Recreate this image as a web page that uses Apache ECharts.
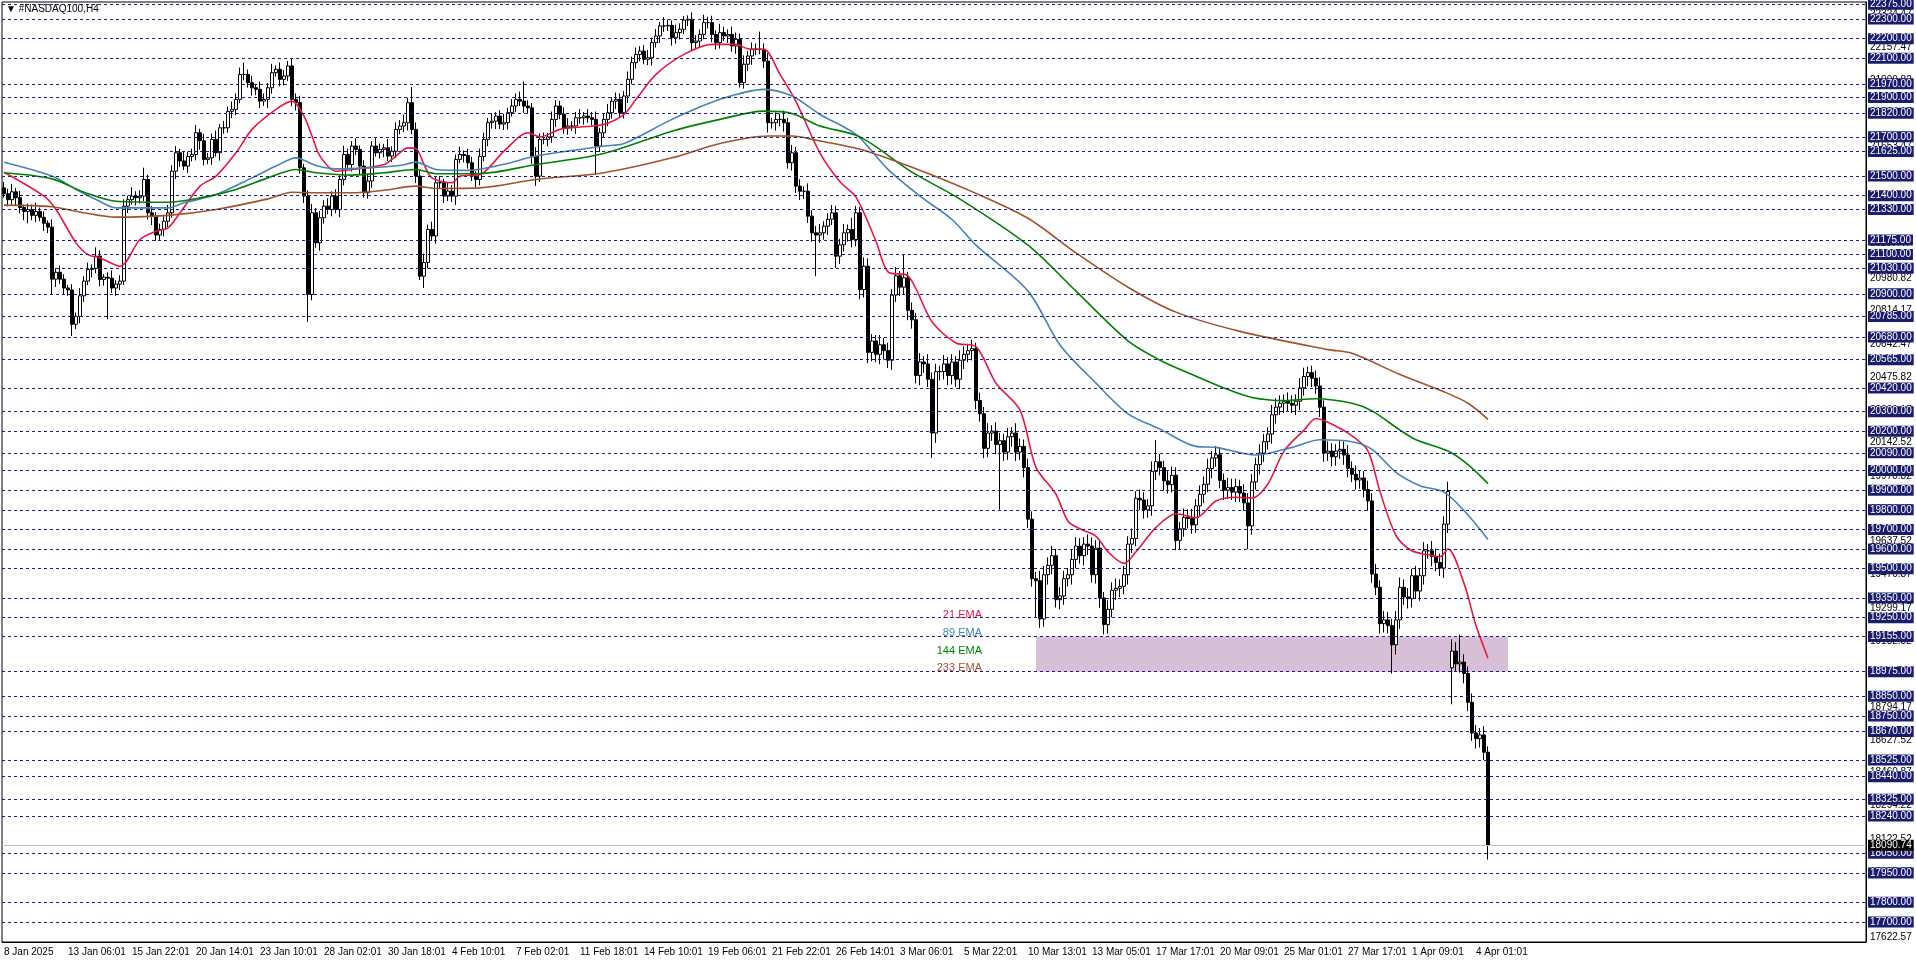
<!DOCTYPE html>
<html><head><meta charset="utf-8">
<script src="https://cdn.jsdelivr.net/npm/echarts@6/dist/echarts.min.js"></script>
<style>html,body{margin:0;padding:0;background:#fff}#c{width:1916px;height:963px}</style>
</head><body><div id="c"></div>
<script>
const tickLabels = ["8 Jan 2025","13 Jan 06:01","15 Jan 22:01","20 Jan 14:01","23 Jan 10:01","28 Jan 02:01","30 Jan 18:01","4 Feb 10:01","7 Feb 02:01","11 Feb 18:01","14 Feb 10:01","19 Feb 06:01","21 Feb 22:01","26 Feb 14:01","3 Mar 06:01","5 Mar 22:01","10 Mar 13:01","13 Mar 05:01","17 Mar 17:01","20 Mar 09:01","25 Mar 01:01","27 Mar 17:01","1 Apr 09:01","4 Apr 01:01"];
const closes = [
21410,21380,21420,21390,21340,21320,21330,21300,21320,21290,21260,21240,20975,21010,20975,20930,20920,20745,20785,20890,
20965,21024,21030,21092,20973,20985,20980,20930,20950,20965,21347,21380,21398,21390,21398,21483,21313,21296,21200,21228,
21270,21313,21525,21619,21577,21551,21600,21610,21721,21680,21585,21593,21687,21619,21746,21746,21830,21840,21891,22018,
22018,21976,21950,21942,21882,21891,21950,22027,22044,21993,22010,22061,21891,21874,21542,21398,20897,21313,21160,21288,
21347,21330,21398,21330,21483,21610,21559,21653,21636,21551,21415,21475,21653,21619,21636,21644,21602,21627,21738,21755,
21772,21874,21738,21500,20990,21060,21228,21195,21466,21466,21398,21424,21398,21585,21610,21605,21568,21500,21483,21600,
21687,21772,21780,21806,21765,21772,21823,21857,21891,21882,21857,21848,21602,21500,21687,21687,21700,21789,21857,21815,
21746,21755,21755,21797,21797,21806,21797,21789,21653,21721,21789,21823,21882,21891,21823,21908,21993,22078,22120,22137,
22095,22103,22180,22214,22265,22265,22268,22205,22231,22248,22295,22299,22180,22188,22222,22282,22282,22222,22180,22231,
22214,22222,22163,22197,21976,22070,22112,22146,22146,22146,22086,21772,21772,21789,21789,21772,21568,21619,21449,21423,
21423,21296,21211,21200,21211,21245,21280,21313,21092,21150,21211,21228,21177,21313,20922,21041,20602,20660,20592,20641,
20611,20562,20894,20992,20934,20982,20816,20768,20484,20553,20543,20465,20191,20504,20504,20543,20484,20553,20465,20562,
20592,20611,20621,20357,20289,20113,20191,20201,20133,20152,20094,20172,20191,20094,20123,20015,19752,19449,19439,19244,
19469,19517,19566,19342,19361,19449,19469,19547,19615,19566,19625,19615,19469,19605,19351,19215,19293,19390,19400,19410,
19469,19625,19654,19859,19850,19800,19820,19996,20045,20015,19947,19928,19976,19644,19703,19762,19755,19723,19820,19879,
19930,20010,20064,20080,19950,19900,19913,19890,19918,19885,19835,19718,19942,20030,20089,20147,20186,20284,20323,20343,
20353,20343,20333,20353,20421,20479,20499,20470,20431,20323,20089,20099,20070,20099,20108,20079,20011,19981,19952,19962,
19903,19845,19473,19405,19220,19239,19210,19112,19239,19405,19356,19347,19464,19386,19464,19591,19591,19562,19532,19503,
19727,19893,19080,19015,19024,18966,18819,18663,18634,18653,18565,18090];
const firstOpen = 21440;
const gapOpens = {362: 18995};
const hiW = [
30,25,40,20,35,15,30,25,45,20,30,15,40,20,35,25,15,30,20,40,
25,35,20,45,30,15,25,40,20,30,35,20,45,25,30,60,25,35,20,30,
25,40,30,35,20,45,25,30,40,20,35,25,30,45,20,35,25,40,30,35,
60,25,35,20,40,30,25,45,20,35,30,25,40,30,35,20,30,45,25,35,
30,40,25,35,20,45,30,25,40,20,30,35,25,40,30,20,45,25,35,30,
40,25,80,35,30,45,25,40,30,35,20,45,30,25,40,20,35,30,25,40,
35,25,40,20,30,45,25,35,30,40,100,30,25,45,30,35,20,40,30,25,
35,40,25,30,45,20,35,30,40,25,30,45,20,35,30,25,40,30,35,25,
30,40,25,35,20,45,30,25,40,30,20,20,35,30,25,40,30,35,20,45,
30,25,40,35,30,45,25,35,30,90,30,40,25,35,30,45,25,40,30,35,
25,40,30,35,45,25,30,40,35,30,45,25,60,35,30,45,40,35,30,50,
35,40,30,45,25,120,30,40,35,45,30,50,35,40,30,45,35,40,30,50,
40,35,45,30,40,35,50,30,45,40,35,45,30,50,40,35,45,40,35,50,
45,40,50,35,45,40,35,50,45,40,35,50,45,40,35,30,45,40,50,35,
45,40,50,35,45,40,35,50,110,40,35,50,45,40,35,45,40,50,35,45,
40,50,35,45,40,35,50,45,40,35,45,50,40,35,45,40,35,50,45,40,
35,45,40,35,50,45,30,35,40,45,35,50,40,35,45,40,50,35,45,40,
35,45,40,50,35,45,40,35,45,50,40,45,35,50,40,45,35,50,40,45,
40,50,60,45,140,40,35,45,40,35,45,30];
const loW = [
20,35,25,40,30,45,60,25,35,20,40,30,80,40,25,35,30,60,25,35,
30,20,40,25,35,30,210,25,40,30,20,35,25,40,30,25,35,45,30,25,
35,30,25,40,30,20,35,25,30,45,30,25,35,20,40,30,25,35,30,20,
30,25,40,30,35,25,45,30,20,35,30,25,35,40,30,35,140,30,25,40,
30,25,35,20,40,30,25,35,30,45,25,30,35,20,30,40,25,30,35,25,
30,40,25,35,20,60,30,25,40,30,35,25,30,45,20,35,30,25,40,30,
25,35,30,40,25,30,35,20,30,25,35,30,40,50,30,25,35,30,40,25,
30,35,25,40,30,35,25,30,145,30,25,35,30,40,25,30,35,25,30,35,
25,30,40,25,35,30,25,40,30,35,25,30,40,30,35,25,30,40,35,30,
25,35,30,40,25,30,35,45,30,25,35,50,30,40,35,45,30,40,35,45,
40,35,45,210,40,35,45,30,60,40,35,45,40,35,50,40,55,45,40,50,
45,40,50,35,45,40,50,45,40,50,45,40,127,50,45,40,50,45,40,50,
45,40,50,45,40,50,45,40,50,332,45,40,50,45,40,50,45,40,185,45,
40,50,45,40,50,45,40,50,45,40,50,45,40,45,50,50,45,40,50,45,
40,50,45,40,50,45,40,50,45,40,50,45,40,50,45,40,50,45,40,50,
45,40,50,45,40,50,45,40,50,45,40,118,45,40,50,45,40,50,45,40,
50,45,40,50,45,40,50,45,40,50,45,40,50,45,40,50,45,40,50,45,
40,50,45,40,50,45,40,146,50,45,40,50,45,40,50,45,40,50,45,40,
50,45,186,40,45,50,45,40,50,45,40,72];
const ema21 = [[0,21520],[10,21398],[13,21330],[18,21160],[21,21100],[24,21083],[29,21041],[34,21177],[38,21219],[41,21236],[44,21313],[49,21449],[53,21500],[58,21619],[62,21738],[68,21840],[72,21882],[75,21806],[77,21704],[79,21602],[83,21525],[87,21534],[95,21559],[98,21602],[101,21644],[103,21640],[105,21559],[107,21491],[112,21466],[114,21500],[119,21508],[125,21627],[131,21721],[134,21700],[139,21738],[144,21750],[150,21763],[155,21814],[158,21891],[163,22018],[170,22120],[177,22171],[183,22171],[186,22149],[190,22146],[194,22018],[198,21880],[204,21617],[209,21471],[213,21393],[218,21168],[221,21012],[226,20992],[232,20758],[238,20650],[243,20631],[248,20445],[254,20308],[258,20016],[263,19879],[266,19742],[269,19703],[273,19665],[276,19586],[280,19527],[283,19586],[288,19710],[293,19780],[298,19760],[303,19845],[308,19864],[312,19860],[316,19933],[320,20099],[325,20206],[328,20265],[333,20226],[337,20177],[341,20099],[344,19893],[348,19669],[352,19591],[356,19571],[359,19561],[361,19600],[365,19425],[368,19210],[371,19044]];
const ema89 = [[0,21571],[12,21500],[18,21432],[23,21381],[28,21338],[41,21338],[45,21364],[53,21406],[62,21491],[68,21551],[73,21593],[78,21554],[83,21537],[91,21542],[99,21554],[103,21571],[108,21534],[116,21529],[125,21560],[133,21602],[150,21653],[155,21666],[167,21789],[179,21891],[190,21942],[197,21908],[204,21814],[213,21712],[221,21534],[229,21398],[237,21279],[243,21148],[256,20914],[264,20640],[273,20445],[281,20289],[289,20211],[298,20123],[303,20118],[313,20079],[322,20118],[329,20157],[337,20147],[342,20108],[348,19991],[354,19923],[360,19890],[365,19796],[371,19649]];
const ema144 = [[0,21517],[12,21486],[20,21418],[28,21372],[41,21367],[49,21389],[58,21432],[66,21491],[73,21534],[78,21517],[87,21505],[95,21517],[103,21534],[108,21512],[119,21513],[133,21559],[150,21615],[167,21729],[179,21789],[190,21831],[197,21819],[204,21755],[214,21700],[227,21520],[239,21383],[256,21148],[268,20914],[281,20660],[289,20562],[297,20489],[305,20420],[312,20372],[320,20356],[328,20366],[337,20343],[342,20304],[349,20206],[353,20157],[361,20099],[366,20030],[371,19933]];
const ema233 = [[0,21352],[12,21344],[20,21313],[28,21291],[41,21300],[53,21330],[66,21384],[72,21418],[78,21415],[87,21415],[95,21428],[103,21449],[108,21437],[119,21440],[133,21483],[150,21517],[167,21593],[179,21666],[191,21704],[197,21704],[203,21683],[214,21637],[227,21545],[243,21412],[256,21285],[268,21109],[281,20934],[293,20807],[309,20709],[331,20616],[337,20597],[349,20489],[360,20401],[366,20343],[371,20261]];
const levels = [22375,22300,22200,22100,21970,21900,21820,21700,21625,21500,21400,21330,21175,21100,21030,20900,20785,20680,20565,20420,20300,20200,20090,20000,19900,19800,19700,19600,19500,19350,19250,19155,18975,18850,18750,18670,18525,18440,18325,18240,18050,17950,17800,17700];
const axisPrices = [22324.47,22157.47,21990.82,21824.17,21653.47,21490.82,21324.17,21157.47,20980.82,20814.17,20642.47,20475.82,20309.17,20142.52,19970.82,19804.17,19637.52,19470.87,19299.17,19132.52,18965.87,18794.17,18627.52,18460.87,18294.22,18122.52,17955.87,17789.22,17622.57];
const lastPrice = 18090.74;
const zone = [19155, 18975];
const zoneBars = [258, 376];
const NCAT = 466;

const cats = []; for (let i=0;i<NCAT;i++) cats.push(String(i));
const ohlc = closes.map((c,i)=>{
  const o = i===0 ? firstOpen : (gapOpens[i] !== undefined ? gapOpens[i] : closes[i-1]);
  return [o, c, Math.min(o,c)-loW[i], Math.max(o,c)+hiW[i]];
});
const F = 'Liberation Sans, Arial, sans-serif';
const showTick = (i)=> i%16===0 && i<=368;
const chart = echarts.init(document.getElementById('c'));
const emaSeries = (name, data, color)=>({type:'line', name, data, smooth:0.3, connectNulls:true, showSymbol:false, symbol:'none', lineStyle:{color, width:1.6}, z:3, silent:true, animation:false});
chart.setOption({
  animation:false,
  backgroundColor:'#fff',
  grid:{left:2, right:50, top:2, bottom:21, show:true, borderColor:'#000', borderWidth:1, backgroundColor:'transparent'},
  xAxis:{type:'category', data:cats, boundaryGap:true,
    axisLine:{lineStyle:{color:'#000'}},
    axisTick:{interval:showTick, length:4, lineStyle:{color:'#000'}},
    axisLabel:{interval:showTick, formatter:(v)=>tickLabels[(+v)/16]||'', align:'left', margin:5, color:'#000', fontSize:10, fontFamily:F},
    splitLine:{show:false}},
  yAxis:{type:'value', position:'right', min:17598, max:22387, axisLabel:{show:false}, axisTick:{show:false}, splitLine:{show:false}, axisLine:{show:true, lineStyle:{color:'#000'}}},
  graphic:[
    {type:'text', left:6, top:4, style:{text:'▼ #NASDAQ100,H4', fill:'#000', font:'10px '+F}},
    {type:'text', x:982, y:615, style:{text:'21 EMA', fill:'#e8173f', font:'11px '+F, textAlign:'right', textVerticalAlign:'middle'}},
    {type:'text', x:982, y:633, style:{text:'89 EMA', fill:'#4682b4', font:'11px '+F, textAlign:'right', textVerticalAlign:'middle'}},
    {type:'text', x:982, y:651, style:{text:'144 EMA', fill:'#008000', font:'11px '+F, textAlign:'right', textVerticalAlign:'middle'}},
    {type:'text', x:982, y:668, style:{text:'233 EMA', fill:'#a0522d', font:'11px '+F, textAlign:'right', textVerticalAlign:'middle'}}
  ],
  series:[
    {type:'line', data:[], z:1, silent:true,
      markLine:{silent:true, symbol:'none', animation:false,
        lineStyle:{color:'transparent', width:0},
        label:{position:'end', distance:4, color:'#000', fontSize:10, fontFamily:F, formatter:(p)=>p.value.toFixed(2)},
        data:axisPrices.map(v=>({yAxis:v}))}},
    {type:'candlestick', data:ohlc, barWidth:3, z:2,
      itemStyle:{color:'#ffffff', color0:'#000000', borderColor:'#000000', borderColor0:'#000000', borderWidth:1},
      markArea:{silent:true, itemStyle:{color:'#d8bfd8', opacity:1}, data:[[{xAxis:zoneBars[0], yAxis:zone[0]},{xAxis:zoneBars[1], yAxis:zone[1]}]]},
      markLine:{silent:true, symbol:'none', animation:false,
        lineStyle:{color:'#1c1c78', type:[3,3], width:1},
        label:{position:'end', distance:2, color:'#fff', backgroundColor:'#1c1c6e', padding:[1,2,0,2], fontSize:10, fontFamily:F, formatter:(p)=>p.value.toFixed(2)},
        data:levels.map(v=>({yAxis:v})).concat([{yAxis:lastPrice, lineStyle:{color:'#c0c0c0', type:'solid'}, label:{backgroundColor:'#000', color:'#fff'}}])}},
    emaSeries('21 EMA', ema21, '#e8173f'),
    emaSeries('89 EMA', ema89, '#4682b4'),
    emaSeries('144 EMA', ema144, '#008000'),
    emaSeries('233 EMA', ema233, '#a0522d')
  ]
});
</script></body></html>
